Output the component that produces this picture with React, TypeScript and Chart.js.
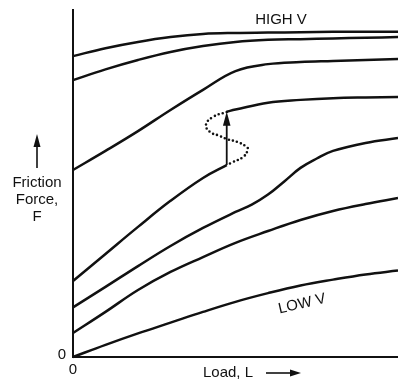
import { useEffect, useRef } from "react";
import { Chart, registerables } from "chart.js";

Chart.register(...registerables);

// Load (horizontal) positions shared by the smooth friction curves
const load = [0, 10, 20, 30, 40, 50, 60, 70, 80, 90, 100];

// Friction force curves, from high sliding speed down to low speed
const frictionHighV = [86.7, 89.0, 90.8, 92.2, 93.1, 93.4, 93.5, 93.6, 93.7, 93.7, 93.7];
const friction2 = [79.8, 82.9, 85.6, 87.9, 89.6, 90.8, 91.4, 91.6, 91.8, 92.0, 92.2];
const friction3 = [53.9, 59.4, 65.1, 71.2, 77.0, 82.4, 84.4, 85.0, 85.3, 85.6, 85.9];

// Curve with a transition bump
const load5 = [0, 10, 20, 30, 40, 50, 55, 60, 65, 70, 75, 80, 90, 100];
const friction5 = [14.3, 20.2, 26.2, 32.0, 37.2, 41.8, 43.9, 46.8, 50.6, 54.5, 57.2, 59.4, 61.7, 63.1];

const friction6 = [6.9, 13.0, 19.3, 24.5, 28.8, 32.9, 36.3, 39.5, 42.1, 44.1, 45.8];
const frictionLowV = [0, 3.5, 6.8, 9.9, 13.0, 15.9, 18.4, 20.6, 22.3, 23.8, 24.9];

// Curve with a sudden jump (stick-slip)
const jumpLoad = 47.3;
const lowerLoad = [0, 10, 20, 30, 40, jumpLoad];
const lowerFriction = [21.9, 29.7, 37.5, 45.0, 51.6, 55.3];
const upperLoad = [jumpLoad, 50, 60, 70, 80, 90, 100];
const upperFriction = [70.7, 71.3, 73.3, 74.1, 74.6, 74.8, 74.9];

// Dotted S-shaped unstable branch linking the two parts
const loopLoad = [47.3, 43.1, 40.9, 42.2, 44.6, 47.4, 50.8, 53.5, 53.8, 52.3, 49.2, 47.3];
const loopFriction = [70.6, 69.2, 66.9, 64.8, 63.9, 62.8, 61.9, 60.5, 59.7, 57.6, 56.2, 55.3];

const FONT = "15px 'Liberation Sans', Arial, sans-serif";
const INK = "#111";

const pts = (xs: number[], ys: number[]) => xs.map((x, i) => ({ x, y: ys[i] }));

const solid = (xs: number[], ys: number[]) => ({
  data: pts(xs, ys),
  borderColor: INK,
  borderWidth: 2.5,
  pointRadius: 0,
  tension: 0.4,
  fill: false,
  clip: false as const,
});

const annotations = {
  id: "annotations",
  afterDatasetsDraw(chart: Chart) {
    const ctx = chart.ctx;
    const xs = chart.scales.x;
    const ys = chart.scales.y;
    ctx.save();
    ctx.fillStyle = INK;
    ctx.strokeStyle = INK;

    // arrowhead at the top of the jump
    const ax = xs.getPixelForValue(jumpLoad);
    const ay = ys.getPixelForValue(upperFriction[0]);
    ctx.beginPath();
    ctx.moveTo(ax, ay);
    ctx.lineTo(ax - 3.8, ay + 14);
    ctx.lineTo(ax + 3.8, ay + 14);
    ctx.closePath();
    ctx.fill();

    ctx.font = FONT;
    ctx.textBaseline = "middle";
    ctx.textAlign = "center";
    ctx.fillText("HIGH V", 281, 20);

    ctx.save();
    ctx.translate(302, 304);
    ctx.rotate((-13 * Math.PI) / 180);
    ctx.fillText("LOW V", 0, 0);
    ctx.restore();

    // y-axis caption with upward arrow
    ctx.lineWidth = 1.6;
    ctx.beginPath();
    ctx.moveTo(37, 168);
    ctx.lineTo(37, 144);
    ctx.stroke();
    ctx.beginPath();
    ctx.moveTo(37, 134);
    ctx.lineTo(33.5, 147);
    ctx.lineTo(40.5, 147);
    ctx.closePath();
    ctx.fill();
    ctx.fillText("Friction", 37, 183);
    ctx.fillText("Force,", 37, 200);
    ctx.fillText("F", 37, 217);

    // origin labels
    ctx.fillText("0", 62, 355);
    ctx.fillText("0", 73, 370);

    // x-axis caption with rightward arrow
    ctx.textAlign = "left";
    ctx.fillText("Load, L", 203, 373);
    ctx.lineWidth = 1.6;
    ctx.beginPath();
    ctx.moveTo(266, 373);
    ctx.lineTo(292, 373);
    ctx.stroke();
    ctx.beginPath();
    ctx.moveTo(301, 373);
    ctx.lineTo(290, 369.5);
    ctx.lineTo(290, 376.5);
    ctx.closePath();
    ctx.fill();

    ctx.restore();
  },
};

export default function App() {
  const canvasRef = useRef<HTMLCanvasElement | null>(null);

  useEffect(() => {
    const canvas = canvasRef.current;
    if (!canvas) return;
    const chart = new Chart(canvas, {
      type: "line",
      data: {
        datasets: [
          solid(load, frictionHighV),
          solid(load, friction2),
          solid(load, friction3),
          solid(lowerLoad, lowerFriction),
          solid(upperLoad, upperFriction),
          solid(load5, friction5),
          solid(load, friction6),
          solid(load, frictionLowV),
          {
            data: pts([jumpLoad, jumpLoad], [lowerFriction[lowerFriction.length - 1], upperFriction[0] - 3]),
            borderColor: INK,
            borderWidth: 1.8,
            pointRadius: 0,
            fill: false,
            clip: false as const,
          },
          {
            data: pts(loopLoad, loopFriction),
            borderColor: INK,
            borderWidth: 2.6,
            borderDash: [0, 4.2],
            borderCapStyle: "round" as const,
            pointRadius: 0,
            tension: 0.45,
            fill: false,
            clip: false as const,
          },
        ],
      },
      options: {
        responsive: false,
        animation: false,
        events: [],
        layout: { padding: { left: 65, top: 10, right: 0, bottom: 16 } },
        plugins: { legend: { display: false }, tooltip: { enabled: false } },
        scales: {
          x: {
            type: "linear",
            min: 0,
            max: 100,
            grid: { display: false },
            ticks: { display: false },
            border: { display: true, color: INK, width: 2 },
          },
          y: {
            type: "linear",
            min: 0,
            max: 100,
            grid: { display: false },
            ticks: { display: false },
            border: { display: true, color: INK, width: 2 },
          },
        },
      },
      plugins: [annotations],
    });
    return () => chart.destroy();
  }, []);

  return (
    <div style={{ position: "absolute", left: 0, top: 0, width: 398, height: 381, background: "#fff" }}>
      <canvas ref={canvasRef} width={398} height={381} style={{ display: "block" }} />
    </div>
  );
}
